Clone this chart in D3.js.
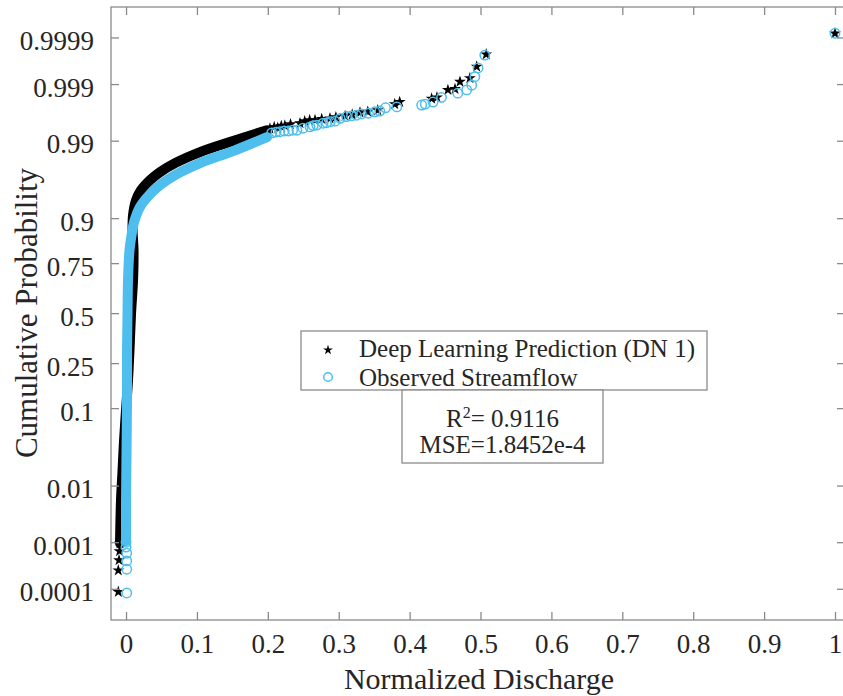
<!DOCTYPE html>
<html>
<head>
<meta charset="utf-8">
<script src="https://cdn.jsdelivr.net/npm/d3@7"></script>
<style>
  body { margin: 0; background: #fff; }
  text { font-family: 'Liberation Serif', 'Times New Roman', serif; fill: #262626; }
</style>
</head>
<body>
<div id="chart"></div>
<script>
// Tick labels
let xTicks = [0, 0.1, 0.2, 0.3, 0.4, 0.5, 0.6, 0.7, 0.8, 0.9, 1]
let yTicks = [0.0001, 0.001, 0.01, 0.1, 0.25, 0.5, 0.75, 0.9, 0.99, 0.999, 0.9999]
let yTickLabels = ['0.0001', '0.001', '0.01', '0.1', '0.25', '0.5', '0.75', '0.9', '0.99', '0.999', '0.9999']

// Dense part of each series (thousands of overlapping markers), read along the band
let predDenseX = [-0.0085, -0.0071, -0.0049, -0.0028, 0, 0.0028, 0.0049, 0.0071, 0.0099, 0.0106, 0.0092, 0.0099, 0.0141, 0.0212, 0.0339, 0.048, 0.0691, 0.1044, 0.1509, 0.1989]
let predDenseP = [0.00095, 0.0058, 0.0171, 0.0433, 0.0953, 0.183, 0.309, 0.5, 0.672, 0.802, 0.869, 0.907, 0.936, 0.9515, 0.9637, 0.9715, 0.9785, 0.9851, 0.9899, 0.9932]

let obsDenseX = [0, 0, 0.0007, 0.0014, 0.0014, 0.0021, 0.0028, 0.0049, 0.0078, 0.0113, 0.0197, 0.0339, 0.048, 0.0691, 0.1044, 0.1509, 0.1989]
let obsDenseP = [0.00105, 0.0058, 0.0322, 0.12, 0.309, 0.5, 0.672, 0.802, 0.854, 0.89, 0.924, 0.9459, 0.958, 0.9687, 0.9785, 0.9856, 0.9912]

// Single markers that can be told apart (both tails)
let predX = [-0.0109, -0.0109, -0.0099, -0.0092, -0.0085,
  0.203, 0.209, 0.214, 0.219, 0.224, 0.232, 0.2454, 0.252, 0.259, 0.2666, 0.276, 0.2877, 0.296, 0.309, 0.319, 0.33, 0.341, 0.355, 0.379, 0.386,
  0.431, 0.4386, 0.454, 0.464, 0.471, 0.485, 0.4946, 0.508, 1.0]
let predP = [0.000085, 0.00026, 0.00043, 0.00066, 0.00095,
  0.9936, 0.994, 0.9938, 0.9942, 0.9943, 0.9946, 0.9948, 0.9952, 0.9954, 0.9954, 0.9956, 0.9957, 0.9959, 0.9961, 0.9963, 0.9966, 0.9967, 0.9969, 0.9976, 0.9978,
  0.9981, 0.9982, 0.9987, 0.99875, 0.9991, 0.99924, 0.99956, 0.99976, 0.99992]

let obsX = [0.001, 0.001, 0.001, 0.001, 0, 0,
  0.2055, 0.2115, 0.217, 0.223, 0.229, 0.235, 0.241, 0.2495, 0.2595, 0.264, 0.269, 0.278, 0.283, 0.288, 0.295, 0.302, 0.311, 0.318, 0.325,
  0.332, 0.342, 0.351, 0.358, 0.366, 0.382,
  0.417, 0.422, 0.433, 0.445, 0.468, 0.4805, 0.4876, 0.492, 0.4965, 0.506, 1.0]
let obsP = [0.00008, 0.000275, 0.000415, 0.0006, 0.0008, 0.001,
  0.9925, 0.9927, 0.9928, 0.993, 0.993, 0.9932, 0.9932, 0.9937, 0.994, 0.9943, 0.9944, 0.9948, 0.9949, 0.9951, 0.9952, 0.9957, 0.996, 0.9961, 0.9962,
  0.9964, 0.9965, 0.9967, 0.9968, 0.9972, 0.9973,
  0.9975, 0.9976, 0.9978, 0.9982, 0.9985, 0.9987, 0.99895, 0.99929, 0.99953, 0.99975, 0.99992]

let legendLabels = ['Deep Learning Prediction (DN 1)', 'Observed Streamflow']
let r2Value = '0.9116'
let mseValue = '1.8452e-4'

let width = 843
let height = 696
let plot = { left: 111, right: 845, top: 7, bottom: 620 }
let blue = '#4DBEEE'
let axisColor = '#8a8a8a'

// inverse normal cdf (Acklam)
function probit(p) {
  let a = [-39.69683028665376, 220.9460984245205, -275.9285104469687, 138.357751867269, -30.66479806614716, 2.506628277459239]
  let b = [-54.47609879822406, 161.5858368580409, -155.6989798598866, 66.80131188771972, -13.28068155288572]
  let c = [-0.007784894002430293, -0.3223964580411365, -2.400758277161838, -2.549732539343734, 4.374664141464968, 2.938163982698783]
  let d = [0.007784695709041462, 0.3224671290700398, 2.445134137142996, 3.754408661907416]
  let pl = 0.02425
  let q, r
  if (p < pl) {
    q = Math.sqrt(-2 * Math.log(p))
    return (((((c[0] * q + c[1]) * q + c[2]) * q + c[3]) * q + c[4]) * q + c[5]) / ((((d[0] * q + d[1]) * q + d[2]) * q + d[3]) * q + 1)
  }
  if (p > 1 - pl) {
    q = Math.sqrt(-2 * Math.log(1 - p))
    return -(((((c[0] * q + c[1]) * q + c[2]) * q + c[3]) * q + c[4]) * q + c[5]) / ((((d[0] * q + d[1]) * q + d[2]) * q + d[3]) * q + 1)
  }
  q = p - 0.5
  r = q * q
  return (((((a[0] * r + a[1]) * r + a[2]) * r + a[3]) * r + a[4]) * r + a[5]) * q / (((((b[0] * r + b[1]) * r + b[2]) * r + b[3]) * r + b[4]) * r + 1)
}

let svg = d3.select('#chart')
  .append('svg')
  .attr('width', width)
  .attr('height', height)
  .style('background', '#fff')

let xPositionScale = d3.scaleLinear().domain([-0.0212, 1.0141]).range([plot.left, plot.right])
let zScale = d3.scaleLinear().domain([-4.14, 4.13]).range([plot.bottom, plot.top])
let yPositionScale = p => zScale(probit(p))

let line = d3.line()
  .x(d => xPositionScale(d[0]))
  .y(d => yPositionScale(d[1]))
  .curve(d3.curveCatmullRom)

// prediction band + stars
svg.append('path')
  .datum(d3.zip(predDenseX, predDenseP))
  .attr('d', line)
  .attr('fill', 'none')
  .attr('stroke', '#000')
  .attr('stroke-width', 10)
  .attr('stroke-linecap', 'round')
  .attr('stroke-linejoin', 'round')

let star = d3.symbol().type(d3.symbolStar).size(44)

svg.append('g')
  .selectAll('path')
  .data(d3.zip(predX, predP))
  .enter()
  .append('path')
  .attr('d', star)
  .attr('transform', d => `translate(${xPositionScale(d[0])},${yPositionScale(d[1])})`)
  .attr('fill', '#000')

// observed band + circles
svg.append('path')
  .datum(d3.zip(obsDenseX, obsDenseP))
  .attr('d', line)
  .attr('fill', 'none')
  .attr('stroke', blue)
  .attr('stroke-width', 10)
  .attr('stroke-linecap', 'round')
  .attr('stroke-linejoin', 'round')

svg.append('g')
  .selectAll('circle')
  .data(d3.zip(obsX, obsP))
  .enter()
  .append('circle')
  .attr('cx', d => xPositionScale(d[0]))
  .attr('cy', d => yPositionScale(d[1]))
  .attr('r', 4.7)
  .attr('fill', 'none')
  .attr('stroke', blue)
  .attr('stroke-width', 1.5)

// axes box
svg.append('rect')
  .attr('x', plot.left)
  .attr('y', plot.top)
  .attr('width', plot.right - plot.left)
  .attr('height', plot.bottom - plot.top)
  .attr('fill', 'none')
  .attr('stroke', axisColor)
  .attr('stroke-width', 1.3)

let xAxis = d3.axisBottom(xPositionScale).tickValues(xTicks).tickFormat(d3.format('')).tickSizeInner(-8).tickSizeOuter(0).tickPadding(14)
svg.append('g')
  .attr('class', 'axis x-axis')
  .attr('transform', `translate(0,${plot.bottom})`)
  .call(xAxis)

svg.append('g')
  .attr('class', 'axis')
  .attr('transform', `translate(0,${plot.top})`)
  .call(d3.axisTop(xPositionScale).tickValues(xTicks).tickSizeInner(-8).tickSizeOuter(0).tickFormat(''))

let yAxis = d3.axisLeft(zScale).tickValues(yTicks.map(probit)).tickFormat((d, i) => yTickLabels[i]).tickSizeInner(-8).tickSizeOuter(0).tickPadding(17)
svg.append('g')
  .attr('class', 'axis y-axis')
  .attr('transform', `translate(${plot.left},0)`)
  .call(yAxis)

svg.append('g')
  .attr('class', 'axis')
  .attr('transform', `translate(${plot.right},0)`)
  .call(d3.axisRight(zScale).tickValues(yTicks.map(probit)).tickSizeInner(-8).tickSizeOuter(0).tickFormat(''))

svg.selectAll('.domain').remove()
svg.selectAll('.axis line').attr('stroke', axisColor).attr('stroke-width', 1.3)
svg.selectAll('.axis text')
  .attr('font-size', 27)
  .attr('fill', '#262626')
svg.selectAll('.y-axis text').attr('dy', '0.45em')

// axis titles
svg.append('text')
  .attr('x', 479)
  .attr('y', 689)
  .attr('text-anchor', 'middle')
  .attr('font-size', 30)
  .text('Normalized Discharge')

svg.append('text')
  .attr('transform', 'translate(37,313) rotate(-90)')
  .attr('text-anchor', 'middle')
  .attr('font-size', 31)
  .text('Cumulative Probability')

// legend
let legend = svg.append('g')
let legendBox = legend.append('rect')
  .attr('x', 301)
  .attr('y', 331)
  .attr('height', 59)
  .attr('fill', '#fff')
  .attr('stroke', axisColor)
  .attr('stroke-width', 1.3)

legend.append('path')
  .attr('d', d3.symbol().type(d3.symbolStar).size(30))
  .attr('transform', 'translate(328,350)')
  .attr('fill', '#000')

legend.append('circle')
  .attr('cx', 328)
  .attr('cy', 377)
  .attr('r', 4.3)
  .attr('fill', 'none')
  .attr('stroke', blue)
  .attr('stroke-width', 1.5)

let legendTexts = legend.selectAll('text')
  .data(legendLabels)
  .enter()
  .append('text')
  .attr('x', 359)
  .attr('y', (d, i) => 357 + i * 29)
  .attr('font-size', 25)
  .text(d => d)

let maxLen = d3.max(legendTexts.nodes(), n => n.getComputedTextLength())
legendBox.attr('width', 359 - 301 + maxLen + 12)

// stats box
svg.append('rect')
  .attr('x', 402)
  .attr('y', 390)
  .attr('width', 201)
  .attr('height', 73)
  .attr('fill', '#fff')
  .attr('stroke', axisColor)
  .attr('stroke-width', 1.3)

let r2 = svg.append('text')
  .attr('x', 502.5)
  .attr('y', 427)
  .attr('text-anchor', 'middle')
  .attr('font-size', 25)
r2.append('tspan').text('R')
r2.append('tspan').attr('font-size', 16).attr('dy', -9).text('2')
r2.append('tspan').attr('dy', 9).text('= ' + r2Value)

svg.append('text')
  .attr('x', 502.5)
  .attr('y', 453)
  .attr('text-anchor', 'middle')
  .attr('font-size', 25)
  .text('MSE=' + mseValue)
</script>
</body>
</html>
